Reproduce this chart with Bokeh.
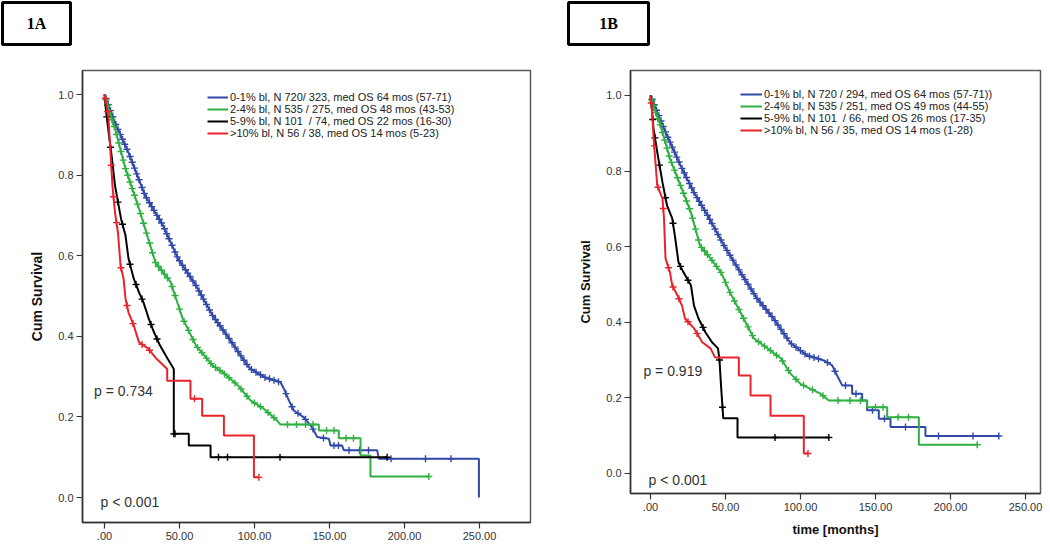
import numpy as np
from bokeh.plotting import figure
from bokeh.models import Range1d, FixedTicker, CustomJSTickFormatter, Label, Legend, LegendItem, Spacer
from bokeh.layouts import row, column
from bokeh.embed import file_html
from bokeh.resources import INLINE
from bokeh.core.properties import value

# ---------------- data ----------------
groups = ["0-1%", "2-4%", "5-9%", ">10%"]

# Panel 1A
A_labels = ["0-1% bl, N 720/ 323, med OS 64 mos (57-71)",
            "2-4% bl, N 535 / 275, med OS 48 mos (43-53)",
            "5-9% bl, N 101  / 74, med OS 22 mos (16-30)",
            ">10% bl, N 56 / 38, med OS 14 mos (5-23)"]
A_blue_t = [0, 2, 7, 16, 27, 39, 49, 61, 72, 83, 94, 97.3, 107, 117.3, 119.6, 122.9, 126.2, 132.9, 138.4, 141.8,
            149.6, 150.7, 158.4, 159.6, 181.8, 182.9, 249.6, 249.6]
A_blue_s = [1.0, 0.98, 0.93, 0.856, 0.75, 0.675, 0.593, 0.526, 0.452, 0.395, 0.335, 0.319, 0.298, 0.286, 0.270,
            0.241, 0.216, 0.199, 0.174, 0.150, 0.146, 0.129, 0.129, 0.117, 0.117, 0.096, 0.096, 0.0]
A_green_t = [0, 3, 7, 14, 23, 34, 44, 48, 52, 61, 72, 79, 89, 97.3, 106.2, 115.1, 117.3, 142.9, 142.9, 156.2,
             156.2, 170.7, 170.7, 177.3, 177.3, 216.2]
A_green_s = [1.0, 0.96, 0.915, 0.816, 0.717, 0.583, 0.535, 0.49, 0.445, 0.377, 0.328, 0.31, 0.278, 0.241, 0.220,
             0.191, 0.181, 0.181, 0.166, 0.166, 0.147, 0.147, 0.104, 0.104, 0.052, 0.052]
A_black_t = [0, 1, 3, 5, 7, 11, 14, 16, 19.5, 23, 26, 29.5, 33, 37, 42, 46.2, 46.2, 56.2, 56.2, 70.7, 70.7, 188.4]
A_black_s = [1.0, 0.96, 0.898, 0.84, 0.774, 0.692, 0.65, 0.593, 0.543, 0.509, 0.484, 0.444, 0.41, 0.377, 0.345,
             0.319, 0.158, 0.158, 0.129, 0.129, 0.100, 0.100]
A_red_t = [0, 1.5, 2.7, 4, 5.3, 7, 9, 10.7, 12.7, 14, 16, 19.5, 23, 29, 34, 41.8, 41.8, 57.3, 57.3, 65.1,
           65.1, 79.6, 79.6, 99.6, 99.6, 102.9]
A_red_s = [1.0, 0.97, 0.94, 0.856, 0.774, 0.707, 0.657, 0.575, 0.543, 0.494, 0.459, 0.427, 0.385, 0.37, 0.347,
           0.319, 0.290, 0.290, 0.245, 0.245, 0.203, 0.203, 0.154, 0.154, 0.050, 0.050]
A_blue_c = [1, 2.5, 4, 5.5, 7.5, 9, 10.5, 12, 13.5, 15, 17, 18.5, 20, 21.5, 23, 25, 26.5, 28, 30, 31.5, 33, 35,
            36.5, 38, 40, 41.5, 43, 45, 47, 48.5, 50, 52, 54, 55.5, 57, 59, 61, 63, 64.5, 66, 68, 70, 72, 74,
            75.5, 77, 79, 81, 83, 85, 87, 89, 91, 93, 95, 98, 101, 104, 107, 110, 113, 116, 121, 125, 129, 134,
            139, 146, 153, 156, 163, 170, 176, 191, 214, 231]
A_green_c = [1, 2, 3.5, 5, 6.5, 8, 9.5, 11, 12.5, 14, 15.5, 17, 18.5, 20, 22, 24, 26, 28, 30, 32, 34, 36, 38,
             40, 42, 45, 47, 50, 53, 56, 59, 62, 65, 68, 71, 74, 77, 80, 83, 87, 91, 95, 100, 104, 109, 113,
             122, 128, 134, 139, 148, 153, 161, 166, 216.2]
A_black_c = [1.5, 4, 9, 12, 17, 21, 25, 31, 35, 46.2, 47, 76, 82, 117, 188.4]
A_red_c = [0.5, 2, 4.5, 6, 8, 11, 15, 19, 25, 30, 60, 102.9]
A_pvals = ["p = 0.734", "p < 0.001"]
A_p_x = [-7, -2.7]
A_p_y = [0.265, -0.012]

# Panel 1B
B_labels = ["0-1% bl, N 720 / 294, med OS 64 mos (57-71))",
            "2-4% bl, N 535 / 251, med OS 49 mos (44-55)",
            "5-9% bl, N 101  / 66, med OS 26 mos (17-35)",
            ">10% bl, N 56 / 35, med OS 14 mos (1-28)"]
B_blue_t = [0, 2, 11, 20, 29, 38, 49, 60, 71, 82, 93.3, 104.4, 115.6, 121.1, 124.4, 127.8, 134.4, 134.4, 141.1,
            141.1, 144.4, 144.4, 152.2, 152.2, 160, 160, 183.3, 183.3, 232.2]
B_blue_s = [1.0, 0.98, 0.894, 0.815, 0.743, 0.683, 0.603, 0.532, 0.463, 0.41, 0.345, 0.312, 0.299, 0.286, 0.259,
            0.233, 0.233, 0.211, 0.211, 0.193, 0.193, 0.167, 0.167, 0.145, 0.145, 0.123, 0.123, 0.099, 0.099]
B_green_t = [0, 3, 6.7, 13, 20, 27, 33, 40, 47, 53, 60, 69, 78, 87, 93.3, 100, 106.7, 113.3, 118.9, 144.4,
             144.4, 157.8, 157.8, 178.9, 178.9, 217.8]
B_green_s = [1.0, 0.96, 0.92, 0.833, 0.762, 0.69, 0.603, 0.569, 0.532, 0.479, 0.426, 0.357, 0.331, 0.304, 0.264,
             0.237, 0.224, 0.211, 0.193, 0.193, 0.175, 0.175, 0.149, 0.149, 0.076, 0.076]
B_black_t = [0, 1, 2, 4.5, 8, 11, 14.5, 16.5, 18.7, 22, 27, 29, 32, 36.7, 41, 45, 46, 47, 48.5, 58, 58, 118.9]
B_black_s = [1.0, 0.96, 0.913, 0.85, 0.77, 0.709, 0.675, 0.622, 0.558, 0.532, 0.497, 0.444, 0.41, 0.373, 0.347,
             0.331, 0.30, 0.233, 0.146, 0.146, 0.095, 0.095]
B_red_t = [0, 1, 2, 3.3, 4.5, 8, 9, 10, 13, 14.5, 18, 21, 23, 29, 34.5, 40, 43, 58.9, 58.9, 66.7,
           66.7, 80, 80, 102.2, 102.2, 105]
B_red_s = [1.0, 0.96, 0.894, 0.823, 0.762, 0.727, 0.675, 0.569, 0.532, 0.497, 0.471, 0.444, 0.41, 0.384, 0.347,
           0.331, 0.307, 0.307, 0.259, 0.259, 0.206, 0.206, 0.153, 0.153, 0.053, 0.053]
B_blue_c = [1, 2.5, 4, 5.5, 7, 8.5, 10, 11.5, 13, 14.5, 16, 17.5, 19, 21, 22.5, 24, 26, 27.5, 29, 31, 32.5,
            34, 36, 38, 39.5, 41, 43, 45, 47, 49, 51, 53, 55, 57, 59, 61, 63, 65, 67, 69, 71, 73, 75, 77, 79,
            81, 83, 85, 87, 89, 91, 94, 97, 100, 103, 106, 109, 112, 118, 123, 130, 137, 148, 156, 170, 192,
            215, 232.2]
B_green_c = [1, 2, 3.5, 5, 6.5, 8, 9.5, 11, 12.5, 14, 16, 18, 20, 22, 24, 26, 28, 30, 32, 34, 36, 38, 41, 44,
             47, 50, 53, 56, 59, 62, 65, 68, 72, 76, 80, 84, 88, 92, 97, 102, 108, 115, 125, 133, 140, 150,
             155, 165, 172, 217.8]
B_black_c = [1.5, 3, 6, 10, 15, 20, 25, 35, 46, 48, 83, 118.9]
B_red_c = [0.5, 2.5, 5, 8.5, 12, 15, 19, 25, 31, 105]
B_pvals = ["p = 0.919", "p < 0.001"]
B_p_x = [-4.7, -1.3]
B_p_y = [0.272, -0.016]

x_ticks = [0, 50, 100, 150, 200, 250]
y_ticks = [0.0, 0.2, 0.4, 0.6, 0.8, 1.0]

COLORS = ["#3148a8", "#2eb042", "#000000", "#e8232b"]
FONT = "Liberation Sans"


def panel(curves_t, curves_s, censors, labels, pv_text, pv_x, pv_y, xr, yr, w, h, mb,
          legend_loc, glyph_w, ylab_size, xlabel):
    p = figure(width=w, height=h, x_range=Range1d(*xr), y_range=Range1d(*yr),
               toolbar_location=None, output_backend="svg", title=None,
               min_border_left=mb[0], min_border_right=mb[1], min_border_top=mb[2],
               min_border_bottom=mb[3])
    p.grid.visible = False
    p.outline_line_color = "#5a5a5a"
    p.outline_line_width = 1.5
    p.background_fill_color = "white"

    p.xaxis.ticker = FixedTicker(ticks=x_ticks)
    p.xaxis.formatter = CustomJSTickFormatter(code="return tick == 0 ? '.00' : tick.toFixed(2);")
    p.yaxis.ticker = FixedTicker(ticks=y_ticks)
    p.yaxis.formatter = CustomJSTickFormatter(code="return tick.toFixed(1);")
    for ax in (p.xaxis, p.yaxis):
        ax.axis_line_color = "#333333"
        ax.axis_line_width = 1.5
        ax.major_tick_line_color = "#333333"
        ax.major_tick_line_width = 1.2
        ax.major_tick_in = 0
        ax.major_tick_out = 6
        ax.minor_tick_line_color = None
        ax.major_label_text_font = FONT
        ax.major_label_text_font_size = "11px"
        ax.major_label_text_color = "#333333"
        ax.major_label_standoff = 3
    p.yaxis.axis_label = "Cum Survival"
    p.yaxis.axis_label_text_font = FONT
    p.yaxis.axis_label_text_font_style = "bold"
    p.yaxis.axis_label_text_font_size = ylab_size
    p.yaxis.axis_label_text_color = "#111111"
    p.yaxis.axis_label_standoff = 10
    if xlabel:
        p.xaxis.axis_label = xlabel
        p.xaxis.axis_label_text_font = FONT
        p.xaxis.axis_label_text_font_style = "bold"
        p.xaxis.axis_label_text_font_size = "13px"
        p.xaxis.axis_label_text_color = "#111111"
        p.xaxis.axis_label_standoff = 8

    renderers = []
    for t, s, c, col in zip(curves_t, curves_s, censors, COLORS):
        r = p.line(t, s, line_color=col, line_width=2)
        renderers.append(r)
        cy = np.interp(c, t, s)
        p.scatter(c, cy, marker="cross", size=7, line_color=col, line_width=1.4)

    items = [LegendItem(label=lab, renderers=[r]) for lab, r in zip(labels, renderers)]
    leg = Legend(items=items, location=legend_loc, glyph_width=glyph_w, glyph_height=12,
                 label_height=12, spacing=0, padding=0, margin=0, label_standoff=2,
                 label_text_font=FONT, label_text_font_size="11px", label_text_color="#222222",
                 background_fill_alpha=0, border_line_alpha=0)
    p.add_layout(leg)

    for txt, x, y in zip(pv_text, pv_x, pv_y):
        p.add_layout(Label(x=x, y=y, text=txt, text_font=FONT, text_font_size="14px",
                           text_baseline="middle", text_color="#333333"))
    return p


def box_fig(w, h, txt):
    b = figure(width=w, height=h, x_range=Range1d(0, 1), y_range=Range1d(0, 1),
               toolbar_location=None, output_backend="svg", title=None,
               x_axis_type=None, y_axis_type=None, min_border=2)
    b.grid.visible = False
    b.outline_line_color = "black"
    b.outline_line_width = 3
    b.text(x=[0.5], y=[0.5], text=[txt], text_align="center", text_baseline="middle",
           text_font=value("Liberation Serif"), text_font_style="bold", text_font_size="16px",
           text_color="black")
    return b


# page has no margin: canvas pixels == page pixels
pA = panel([A_blue_t, A_green_t, A_black_t, A_red_t], [A_blue_s, A_green_s, A_black_s, A_red_s],
           [A_blue_c, A_green_c, A_black_c, A_red_c], A_labels, A_pvals, A_p_x, A_p_y,
           (-14.67, 284.0), (-0.062, 1.0596), 550, 508, (82, 20, 24, 32), (125, 383), 21, "14px", None)
pB = panel([B_blue_t, B_green_t, B_black_t, B_red_t], [B_blue_s, B_green_s, B_black_s, B_red_s],
           [B_blue_c, B_green_c, B_black_c, B_red_c], B_labels, B_pvals, B_p_x, B_p_y,
           (-13.33, 260.0), (-0.053, 1.066), 498, 508, (80, 8, 24, 61), (110, 357), 22, "13px",
           "time [months]")

boxA = box_fig(72, 46, "1A")
boxB = box_fig(84, 46, "1B")
colA = column(row(boxA, Spacer(width=4, height=46)), pA)
colB = column(row(Spacer(width=16, height=46), boxB), pB)
layout = row(colA, colB)

open("out.html", "w").write(file_html(layout, INLINE))
